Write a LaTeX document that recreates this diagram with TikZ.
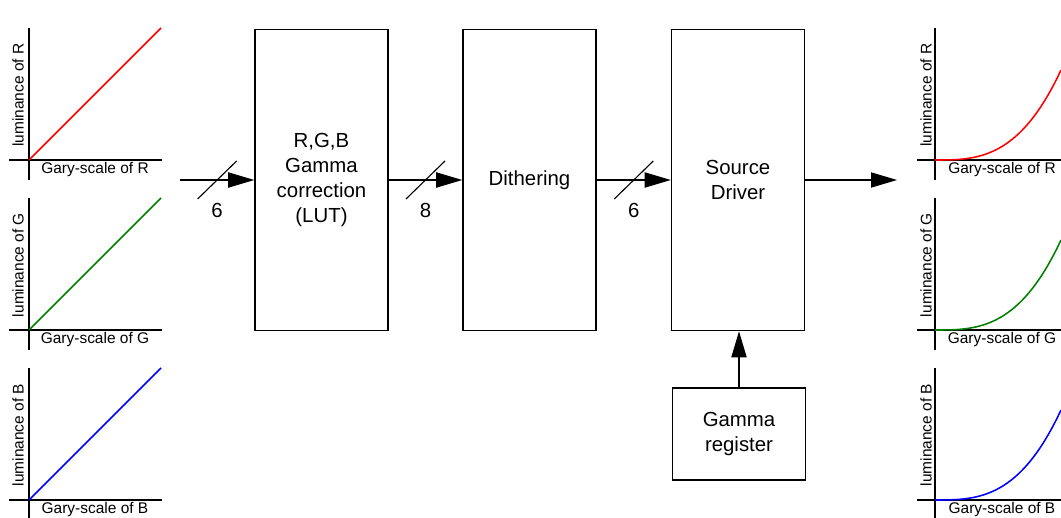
\documentclass[tikz,border=0pt]{standalone}
\usepackage{fontspec}
\setmainfont{Liberation Sans}
\usetikzlibrary{arrows.meta, positioning, calc}
\definecolor{grn}{RGB}{0,128,0}
\begin{document}
\begin{tikzpicture}[
  x=0.025cm, y=-0.025cm,
  font=\fontsize{14.5pt}{17.8pt}\selectfont,
  blk/.style={draw, line width=0.9pt, minimum width=3.33cm, minimum height=7.53cm, align=center, inner sep=0pt},
  reg/.style={blk, minimum height=2.3cm},
  arr/.style={-{Triangle[length=0.65cm, width=0.38cm]}, line width=0.8pt},
  ax/.style={line width=1.1pt},
  crv/.style={line width=1.1pt},
  axlbl/.style={font=\fontsize{11pt}{13pt}\selectfont, inner sep=0pt}
]
  \useasboundingbox (0,0) rectangle (1061,518);
  % blocks
  \node[blk] (gc) at (321.5,180) {R,G,B\\Gamma\\correction\\(LUT)};
  \node[blk] (di) at (529.5,180) {Dithering};
  \node[blk] (sd) at (738,180) {Source\\Driver};
  \node[reg] (gr) at (739,434) {Gamma\\register};
  \coordinate (in) at (180,180);
  \coordinate (out) at (897,180);
  % buses with bit widths
  \foreach \a/\b/\n in {in/gc.west/6, gc.east/di.west/8, di.east/sd.west/6} {
    \draw[arr] (\a) -- coordinate (m) (\b);
    \draw[line width=0.8pt] (m) +(-19.5,19) -- +(19.5,-19);
    \node at ($(m)+(0,30)$) {\n};
  }
  \draw[arr] (sd.east) -- (out);
  \draw[arr] (gr.north) -- (gr.north |- sd.south);
  % transfer curves, linear in / gamma out
  \foreach \oy/\c/\ch in {160/red/R, 330/grn/G, 500/blue/B} {
    \draw[ax] (9,\oy) -- (162,\oy) (29,\oy+20) -- (29,\oy-132);
    \draw[crv, \c] (29,\oy) -- (161,\oy-132);
    \node[axlbl] at (95,\oy+10) {Gary-scale of \ch};
    \node[axlbl, rotate=90] at (18,\oy-65) {luminance of \ch};
    \draw[ax] (917,\oy) -- (1061,\oy) (935,\oy+20) -- (935,\oy-132);
    \draw[crv, \c, domain=0:126, samples=40] plot ({935+\x},{\oy-90*(\x/126)^3});
    \node[axlbl] at (1002,\oy+10) {Gary-scale of \ch};
    \node[axlbl, rotate=90] at (926,\oy-65) {luminance of \ch};
  }
\end{tikzpicture}
\end{document}
